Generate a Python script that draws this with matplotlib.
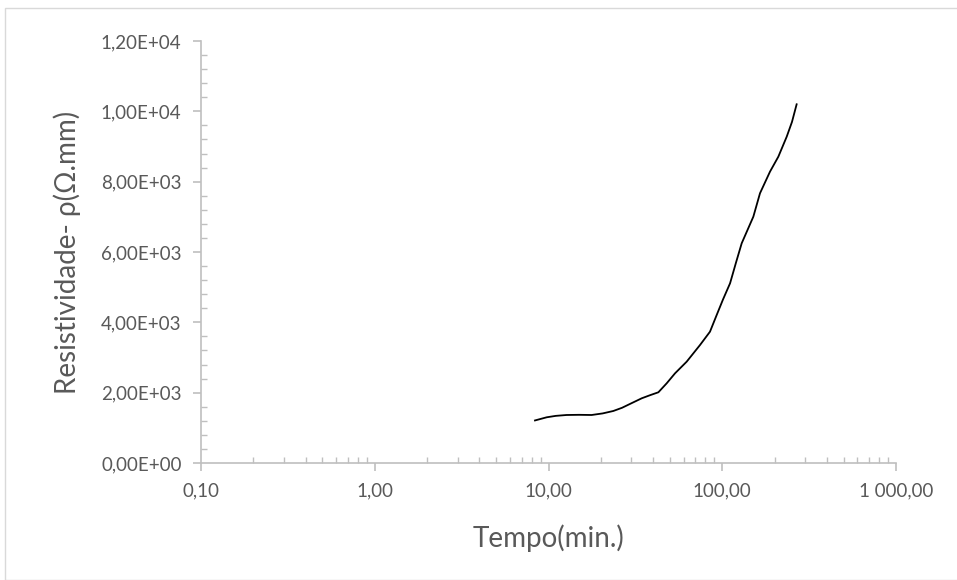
import matplotlib.pyplot as plt
from matplotlib.ticker import FuncFormatter, LogLocator, MultipleLocator
from matplotlib.patches import Rectangle

# tempo (min) e resistividade (ohm.mm)
tempo = [8.36, 9.77, 11.0, 12.7, 15.0, 17.7, 20.5, 23.6, 26.5, 29.4, 34.4,
         38.5, 42.9, 47.9, 53.5, 62.4, 74.5, 85.0, 92.9, 101.0, 110.9,
         120.0, 129.4, 151.0, 164.9, 188.3, 210.3, 235.0, 252.0, 268.0]
resist = [1210, 1300, 1340, 1365, 1370, 1365, 1410, 1479, 1570, 1678, 1840,
          1930, 2011, 2267, 2551, 2881, 3356, 3734, 4209, 4650, 5110,
          5700, 6248, 7005, 7670, 8285, 8711, 9280, 9700, 10200]

plt.rcParams['font.family'] = ['Lato', 'DejaVu Sans']
grey = '#595959'
axis_grey = '#bfbfbf'

fig = plt.figure(figsize=(9.57, 5.8), dpi=100)
ax = fig.add_axes([201 / 957, 1 - 463 / 580, 695 / 957, 422 / 580])

ax.plot(tempo, resist, color='black', linewidth=1.3)

ax.set_xscale('log')
ax.set_xlim(0.1, 1000)
ax.set_ylim(0, 12000)

def fmt_x(v, pos):
    s = f'{v:,.2f}'
    return s.replace(',', ' ').replace('.', ',')

def fmt_y(v, pos):
    s = f'{v:.2E}'
    return s.replace('.', ',')

ax.xaxis.set_major_locator(LogLocator(base=10))
ax.xaxis.set_minor_locator(LogLocator(base=10, subs=range(2, 10)))
ax.xaxis.set_major_formatter(FuncFormatter(fmt_x))
ax.xaxis.set_minor_formatter(FuncFormatter(lambda v, p: ''))
ax.yaxis.set_major_locator(MultipleLocator(2000))
ax.yaxis.set_minor_locator(MultipleLocator(400))
ax.yaxis.set_major_formatter(FuncFormatter(fmt_y))

for s in ['top', 'right']:
    ax.spines[s].set_visible(False)
for s in ['left', 'bottom']:
    ax.spines[s].set_color(axis_grey)
    ax.spines[s].set_linewidth(1.2)

ax.tick_params(which='major', direction='out', length=6, width=1.2,
               color=axis_grey, labelcolor=grey, labelsize=13.5, pad=8)
ax.tick_params(which='minor', direction='in', length=4, width=1,
               color=axis_grey)

ax.set_xlabel('Tempo(min.)', fontsize=20, color=grey, labelpad=18)
ax.set_ylabel('Resistividade- ρ(Ω.mm)', fontsize=20, color=grey, labelpad=14)

# moldura do grafico
fig.patches.append(Rectangle((5 / 957, 0), 1, 1 - 8 / 580, transform=fig.transFigure,
                             fill=False, edgecolor='#d9d9d9', linewidth=1))

plt.savefig('out.png', dpi=100)
